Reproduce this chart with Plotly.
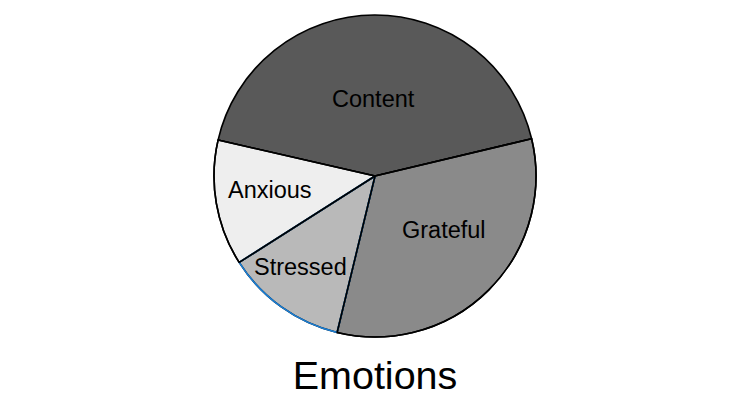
import math
import plotly.graph_objects as go

labels = ["Content", "Grateful", "Stressed", "Anxious"]
values = [42.7, 32.5, 12.2, 12.6]
colors = ["#595959", "#8a8a8a", "#b9b9b9", "#eeeeee"]
title_text = "Emotions"

FONT = "Liberation Sans, Arial, sans-serif"
highlight = "Stressed"
ROTATION = -77.1          # start of first slice, degrees clockwise from 12 o'clock
W, H = 750, 400
M_T, M_B = 15, 63

# label placement style: radial fraction and small angular nudge (deg) per slice
label_style = {
    "Content": (0.478, 0.7),
    "Grateful": (0.548, 7.0),
    "Stressed": (0.731, -4.0),
    "Anxious": (0.655, -2.2),
}

fig = go.Figure()

common = dict(labels=labels, values=values, sort=False, direction="clockwise",
              rotation=ROTATION, showlegend=False, hoverinfo="skip", textinfo="none")

# main pie
fig.add_trace(go.Pie(
    marker=dict(colors=colors, line=dict(color="#000000", width=1.6)),
    **common,
))

# blue outline on the highlighted slice
fig.add_trace(go.Pie(
    marker=dict(colors=["rgba(0,0,0,0)"] * len(labels),
                line=dict(color=["#1a7fd6" if l == highlight else "rgba(0,0,0,0)" for l in labels],
                          width=[1.6 if l == highlight else 0 for l in labels])),
    **common,
))

# re-draw neighbouring black edges on top
fig.add_trace(go.Pie(
    marker=dict(colors=["rgba(0,0,0,0)"] * len(labels),
                line=dict(color=["rgba(0,0,0,0)" if l in (highlight, "Content") else "#000000" for l in labels],
                          width=[0 if l in (highlight, "Content") else 1.6 for l in labels])),
    **common,
))

# slice labels, positioned from the data (mid-angle of each slice)
plot_h = H - M_T - M_B
r_px = plot_h / 2
total = sum(values)
start = 90 - ROTATION
cum = 0
for lab, v in zip(labels, values):
    mid = start - (cum + v / 2) / total * 360
    cum += v
    frac, nudge = label_style[lab]
    a = math.radians(mid + nudge)
    dx = frac * r_px * math.cos(a)
    dy = frac * r_px * math.sin(a)
    fig.add_annotation(
        x=0.5 + dx / W, y=0.5 + dy / plot_h, xref="paper", yref="paper",
        text=lab, showarrow=False, xanchor="center", yanchor="middle",
        font=dict(family=FONT, size=23.5, color="#000000"),
    )

fig.update_layout(
    width=W, height=H,
    margin=dict(l=0, r=0, t=M_T, b=M_B),
    paper_bgcolor="#ffffff", plot_bgcolor="#ffffff",
    title=dict(text=title_text, x=0.5, xanchor="center", yref="container",
               y=0.0625, yanchor="middle",
               font=dict(family=FONT, size=39.5, color="#000000")),
)

fig.write_html("out.html")
